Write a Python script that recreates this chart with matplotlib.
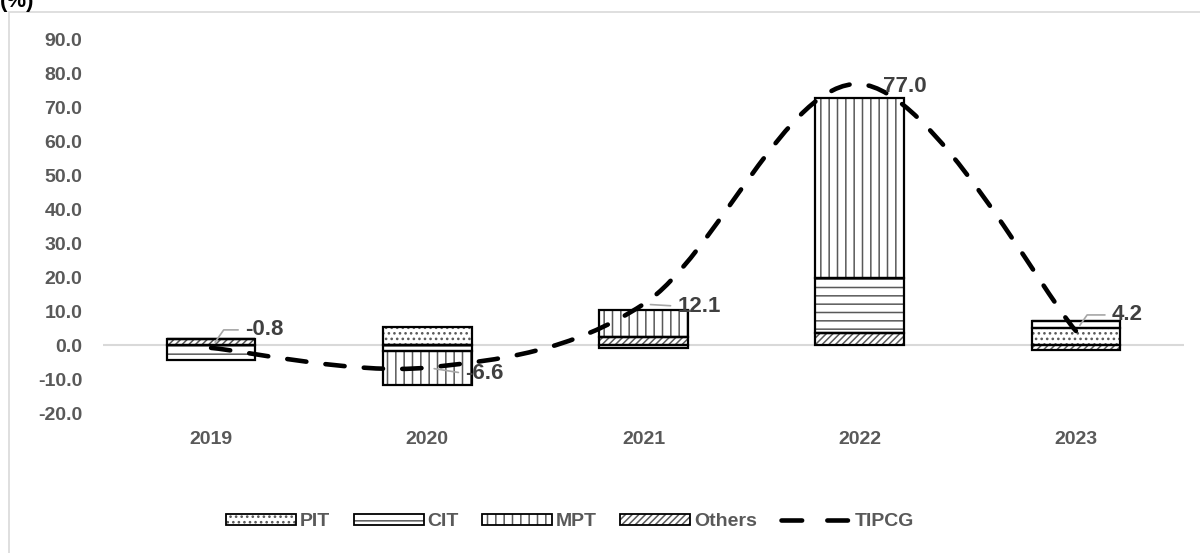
import matplotlib
matplotlib.use('Agg')
import matplotlib.pyplot as plt
import numpy as np
from matplotlib.path import Path
from matplotlib.patches import PathPatch, Patch, Rectangle
from matplotlib.lines import Line2D
from matplotlib.legend_handler import HandlerTuple

# ---------------- data ----------------
years = ['2019', '2020', '2021', '2022', '2023']
pit = [0.0, 5.3, -0.8, 0.0, 5.0]
cit = [-4.4, -1.8, 0.0, 16.2, 2.0]
mpt = [0.0, -10.0, 7.9, 53.3, 0.0]
others = [1.8, 0.0, 2.4, 3.5, -1.5]
tipcg = [-0.8, -6.6, 12.1, 77.0, 4.2]
yticks = [-20, -10, 0, 10, 20, 30, 40, 50, 60, 70, 80, 90]

# ---------------- style ----------------
plt.rcParams['font.family'] = ['Liberation Sans', 'DejaVu Sans']
plt.rcParams['font.weight'] = 'bold'
plt.rcParams['hatch.linewidth'] = 1.1

TXT = '#595959'
LBL = '#404040'
HATCH = '#595959'

fig = plt.figure(figsize=(12, 5.53), dpi=100)
ax = fig.add_axes([103 / 1200, 1 - 413 / 553, (1184 - 103) / 1200, (413 - 40) / 553])

# chart border (partially outside canvas)
fig.patches.append(Rectangle((9 / 1200, -0.2), 1.2, 1 - 12 / 553 + 0.2,
                             transform=fig.transFigure, fill=False,
                             edgecolor='#d9d9d9', lw=1.2))
fig.text(0.0, 1 - 12 / 553, '(%)', fontsize=16, fontweight='bold',
         color='black', va='bottom', ha='left')

x = np.arange(len(years))
width = 0.41

series = [('Others', others, '/////'), ('PIT', pit, '...'),
          ('CIT', cit, '--'), ('MPT', mpt, '||')]
pos_base = np.zeros(len(years))
neg_base = np.zeros(len(years))
handles = {}
for name, vals, hatch in series:
    v = np.array(vals)
    bottoms = np.where(v >= 0, pos_base, neg_base)
    ax.bar(x, v, width, bottom=bottoms, color='white', edgecolor=HATCH,
           hatch=hatch, lw=0, zorder=2)
    ax.bar(x, v, width, bottom=bottoms, facecolor='none', edgecolor='black',
           lw=1.6, zorder=3)
    pos_base = pos_base + np.where(v >= 0, v, 0)
    neg_base = neg_base + np.where(v < 0, v, 0)
    handles[name] = (Patch(facecolor='white', edgecolor=HATCH, hatch=hatch, lw=0),
                     Patch(facecolor='none', edgecolor='black', lw=1.3))

# smoothed TIPCG line (Bezier through data points)
pts = np.column_stack([x, tipcg]).astype(float)
n = len(pts)
verts = [tuple(pts[0])]
codes = [Path.MOVETO]
for i in range(n - 1):
    p_prev = pts[i - 1] if i > 0 else pts[i]
    p_next2 = pts[i + 2] if i + 2 < n else pts[i + 1]
    c1 = pts[i] + (pts[i + 1] - p_prev) / 6.0
    c2 = pts[i + 1] - (p_next2 - pts[i]) / 6.0
    verts += [tuple(c1), tuple(c2), tuple(pts[i + 1])]
    codes += [Path.CURVE4] * 3
ax.add_patch(PathPatch(Path(verts, codes), fill=False, zorder=4,
                       edgecolor='black', lw=3.3, linestyle=(0, (4.2, 4.2)),
                       capstyle='round'))

# data labels (offsets in pixels are layout)
label_offsets = [(34, 18), (38, -6), (34, -2), (23, -2), (36, 16)]
leader = [True, True, True, False, True]
for i, v in enumerate(tipcg):
    dx, dy = label_offsets[i]
    kw = {}
    if leader[i]:
        kw['arrowprops'] = dict(arrowstyle='-', color='#a6a6a6', lw=1.2,
                                shrinkA=3, shrinkB=5,
                                connectionstyle='angle,angleA=0,angleB=55,rad=0' if abs(dy) > 8 else 'arc3',
                                relpos=(0, 0.5))
    ax.annotate(f'{v:.1f}', xy=(x[i], v), xytext=(dx, dy),
                textcoords='offset pixels', ha='left', va='center',
                fontsize=16, fontweight='bold', color=LBL, zorder=5, **kw)

ax.axhline(0, color='#d9d9d9', lw=1.5, zorder=1)
ax.set_xlim(-0.5, len(years) - 0.5)
ax.set_ylim(-20, 90)
ax.set_yticks(yticks)
ax.set_yticklabels([f'{t:.1f}' for t in yticks])
ax.set_xticks(x)
ax.set_xticklabels(years)
ax.tick_params(axis='y', length=0, pad=15, labelsize=14, labelcolor=TXT)
ax.tick_params(axis='x', length=0, pad=13, labelsize=14, labelcolor=TXT)
for s in ax.spines.values():
    s.set_visible(False)

line_handle = Line2D([], [], color='black', lw=3.3, linestyle=(0, (4.5, 5.5)),
                     dash_capstyle='round')
leg_h = [handles['PIT'], handles['CIT'], handles['MPT'], handles['Others'], line_handle]
leg_l = ['PIT', 'CIT', 'MPT', 'Others', 'TIPCG']
leg = fig.legend(leg_h, leg_l, loc='center', bbox_to_anchor=(570 / 1200, 1 - 522 / 553),
                 ncol=5, frameon=False, fontsize=14, handlelength=3.6,
                 handleheight=0.55, handletextpad=0.2, columnspacing=1.2,
                 handler_map={tuple: HandlerTuple(ndivide=1)})
for t in leg.get_texts():
    t.set_color(TXT)
    t.set_fontweight('bold')

fig.savefig('out.png', dpi=100)
